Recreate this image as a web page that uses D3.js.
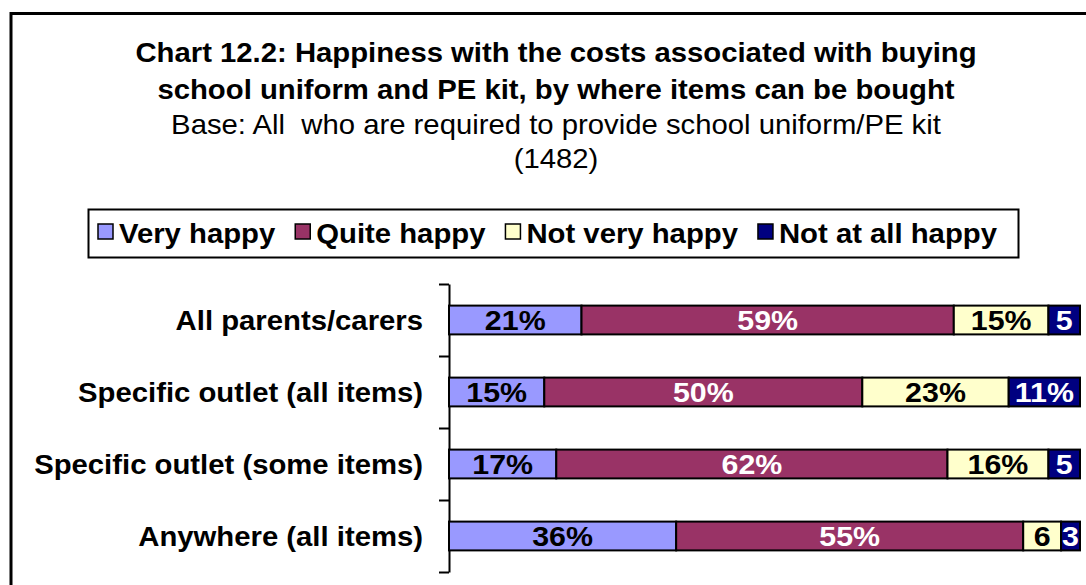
<!DOCTYPE html>
<html>
<head>
<meta charset="utf-8">
<script src="https://cdn.jsdelivr.net/npm/d3@7"></script>
<style>
  body { margin: 0; background: #fff; }
  svg text { font-family: "Liberation Sans", Arial, sans-serif; white-space: pre; }
</style>
</head>
<body>
<script>
// data (percent of each group)
var categories = ["All parents/carers", "Specific outlet (all items)", "Specific outlet (some items)", "Anywhere (all items)"];
var seriesNames = ["Very happy", "Quite happy", "Not very happy", "Not at all happy"];
var veryHappy = [21, 15.1, 17, 36];
var quiteHappy = [59, 50.4, 62, 55];
var notVeryHappy = [15, 23.2, 16, 6];
var notAtAllHappy = [5, 11.3, 5, 3];
// the narrow segments are labelled without the % sign
var labelSuffix = [["%", "%", "%", ""], ["%", "%", "%", "%"], ["%", "%", "%", ""], ["%", "%", "", ""]];
var titleLines = ["Chart 12.2: Happiness with the costs associated with buying",
                  "school uniform and PE kit, by where items can be bought"];
var subtitleLines = ["Base: All  who are required to provide school uniform/PE kit", "(1482)"];

var colors = ["#9999ff", "#993366", "#ffffcc", "#000080"];
var textColors = ["#000", "#fff", "#000", "#fff"];

var width = 1086, height = 585;
var SX = 1.085; // text in the picture is slightly wide
var FS = 27;

var svg = d3.select("body").append("svg")
    .attr("width", width)
    .attr("height", height);

// draws a horizontally stretched text
function stext(g, x, y, str, anchor, size, weight, fill) {
    return g.append("text")
        .attr("transform", "translate(" + x + "," + y + ") scale(" + SX + ",1)")
        .attr("text-anchor", anchor)
        .attr("font-size", size)
        .attr("font-weight", weight)
        .attr("fill", fill || "#000")
        .text(str);
}

// outer frame (runs off the right and bottom edge)
svg.append("rect")
    .attr("x", 11).attr("y", 13.5)
    .attr("width", 1200).attr("height", 700)
    .attr("fill", "#fff")
    .attr("stroke", "#000")
    .attr("stroke-width", 3);

// titles
titleLines.forEach(function(t, i) {
    stext(svg, 556, 62 + i * 37, t, "middle", FS, "bold");
});
stext(svg, 556, 134, subtitleLines[0], "middle", FS, "normal");
stext(svg, 556, 168, subtitleLines[1], "middle", FS, "normal");

// legend
var legend = svg.append("g");
legend.append("rect")
    .attr("x", 88.5).attr("y", 209.5)
    .attr("width", 930).attr("height", 48)
    .attr("fill", "#fff")
    .attr("stroke", "#000")
    .attr("stroke-width", 2);
var lx = 98;
seriesNames.forEach(function(name, i) {
    legend.append("rect")
        .attr("x", lx).attr("y", 224)
        .attr("width", 15).attr("height", 15)
        .attr("fill", colors[i])
        .attr("stroke", "#000")
        .attr("stroke-width", 1.5);
    var t = stext(legend, lx + 21, 243, name, "start", FS, "bold");
    lx += 21 + t.node().getComputedTextLength() * SX + 20;
});

// scales
var x = d3.scaleLinear().domain([0, 100]).range([449, 1080]);
var y = d3.scaleBand().domain(categories).range([284, 572])
    .paddingInner(0.6).paddingOuter(0.3);
var yTicks = d3.scaleLinear().domain([0, categories.length]).range([284, 572]);

// axis with ticks on the category boundaries
svg.append("g")
    .attr("transform", "translate(449,0)")
    .call(d3.axisLeft(yTicks)
        .tickValues(d3.range(categories.length + 1))
        .tickFormat("")
        .tickSize(10)
        .tickSizeOuter(0))
    .call(function(g) {
        g.selectAll("path, line").attr("stroke", "#000").attr("stroke-width", 2);
    });

// category labels
categories.forEach(function(c) {
    stext(svg, 423, y(c) + y.bandwidth() / 2 + 9.5, c, "end", FS, "bold");
});

// stacked bars
var table = categories.map(function(c, i) {
    return {cat: c, vals: [veryHappy[i], quiteHappy[i], notVeryHappy[i], notAtAllHappy[i]], row: i};
});
var segs = [];
table.forEach(function(d) {
    var acc = 0;
    d.vals.forEach(function(v, k) {
        segs.push({cat: d.cat, k: k, x0: acc, x1: acc + v, v: v, row: d.row});
        acc += v;
    });
});

var bars = svg.append("g");
bars.selectAll("rect")
    .data(segs)
    .enter()
    .append("rect")
    .attr("x", function(d) { return x(d.x0); })
    .attr("y", function(d) { return y(d.cat); })
    .attr("width", function(d) { return x(d.x1) - x(d.x0); })
    .attr("height", y.bandwidth())
    .attr("fill", function(d) { return colors[d.k]; })
    .attr("stroke", "#000")
    .attr("stroke-width", 2);

segs.forEach(function(d) {
    var cx = (x(d.x0) + x(d.x1)) / 2;
    stext(bars, cx, y(d.cat) + y.bandwidth() / 2 + 10,
        Math.round(d.v) + labelSuffix[d.row][d.k], "middle", 28, "bold", textColors[d.k]);
});
</script>
</body>
</html>
